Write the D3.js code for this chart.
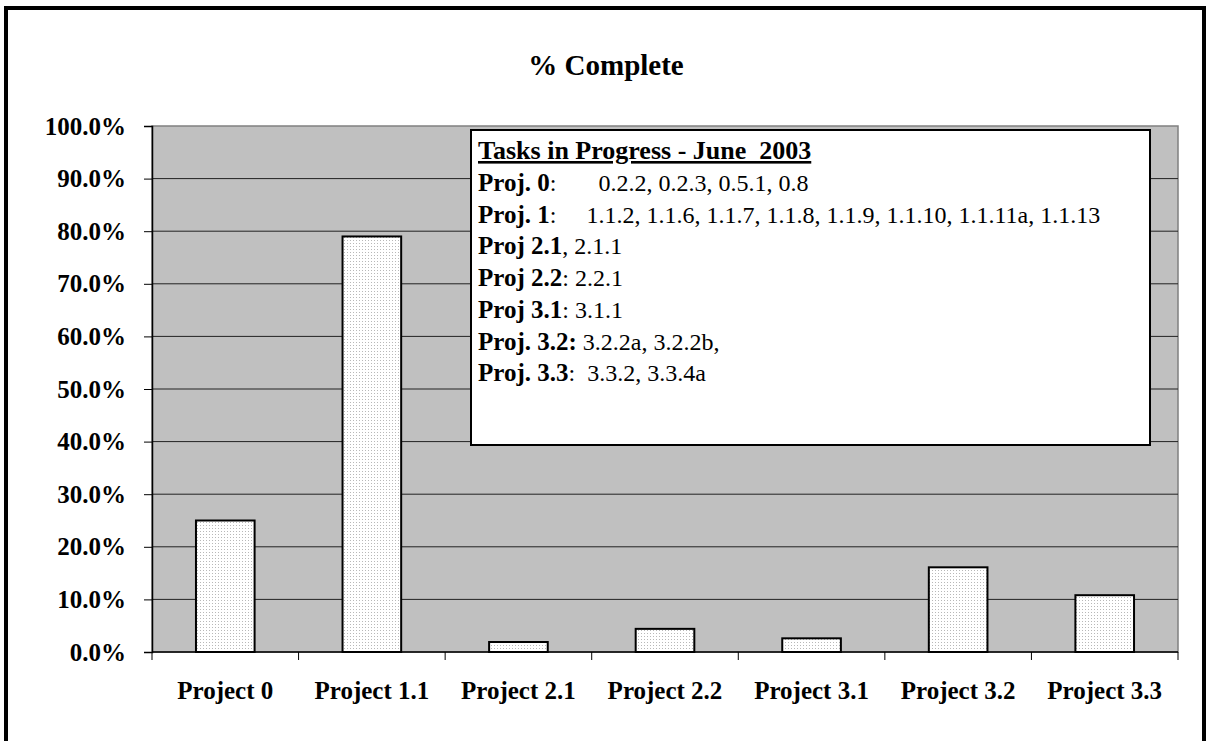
<!DOCTYPE html>
<html>
<head>
<meta charset="utf-8">
<script src="https://cdn.jsdelivr.net/npm/d3@7"></script>
<style>
  body { margin: 0; background: #fff; }
  svg text { font-family: "Liberation Serif", "Times New Roman", serif; }
</style>
</head>
<body>
<div id="chart"></div>
<script>
// data
var projects = ["Project 0", "Project 1.1", "Project 2.1", "Project 2.2", "Project 3.1", "Project 3.2", "Project 3.3"];
var complete = [0.25, 0.79, 0.019, 0.044, 0.026, 0.161, 0.108];
var yTicks = [0, 0.1, 0.2, 0.3, 0.4, 0.5, 0.6, 0.7, 0.8, 0.9, 1.0];

// legend text: [bold part, normal part]
var noteTitle = "Tasks in Progress - June\u00a0 2003";
var noteLines = [
  ["Proj. 0", ":\u00a0\u00a0\u00a0\u00a0\u00a0\u00a0 0.2.2, 0.2.3, 0.5.1, 0.8"],
  ["Proj. 1", ":\u00a0\u00a0\u00a0\u00a0 1.1.2, 1.1.6, 1.1.7, 1.1.8, 1.1.9, 1.1.10, 1.1.11a, 1.1.13"],
  ["Proj 2.1", ", 2.1.1"],
  ["Proj 2.2", ": 2.2.1"],
  ["Proj 3.1", ": 3.1.1"],
  ["Proj. 3.2:", " 3.2.2a, 3.2.2b,"],
  ["Proj. 3.3", ":\u00a0 3.3.2, 3.3.4a"]
];

var width = 1209, height = 741;
var margin = {top: 126, right: 31, bottom: 89, left: 152};
var chartWidth = width - margin.left - margin.right;
var chartHeight = height - margin.top - margin.bottom;

var svg = d3.select("#chart").append("svg")
    .attr("width", width)
    .attr("height", height);

// dotted fill for the bars
var pat = svg.append("defs").append("pattern")
    .attr("id", "dots")
    .attr("width", 3).attr("height", 3)
    .attr("patternUnits", "userSpaceOnUse");
pat.append("rect").attr("width", 3).attr("height", 3).attr("fill", "#ffffff");
pat.append("rect").attr("width", 1).attr("height", 1).attr("fill", "#b8b8b8");

// outer frame
svg.append("rect")
    .attr("x", 6).attr("y", 8)
    .attr("width", 1198).attr("height", 760)
    .attr("fill", "none")
    .attr("stroke", "#000")
    .attr("stroke-width", 4);

svg.append("text")
    .attr("x", 606).attr("y", 75)
    .attr("text-anchor", "middle")
    .style("font-size", "29px")
    .style("font-weight", "bold")
    .text("% Complete");

var g = svg.append("g")
    .attr("transform", `translate(${margin.left}, ${margin.top})`);

var xScale = d3.scaleBand().domain(projects).range([0, chartWidth]).paddingInner(0.6).paddingOuter(0.3);
var yScale = d3.scaleLinear().domain([0, 1]).range([chartHeight, 0]);

// plot area
g.append("rect")
    .attr("width", chartWidth).attr("height", chartHeight)
    .attr("fill", "#c0c0c0")
    .attr("stroke", "#808080")
    .attr("stroke-width", 1.5);

// gridlines
g.selectAll(".grid")
    .data(yTicks.slice(1, -1))
    .enter().append("line")
    .attr("class", "grid")
    .attr("x1", 0).attr("x2", chartWidth)
    .attr("y1", d => yScale(d)).attr("y2", d => yScale(d))
    .attr("stroke", "#222")
    .attr("stroke-width", 1);

// bars
g.selectAll(".bar")
    .data(complete)
    .enter().append("rect")
    .attr("class", "bar")
    .attr("x", (d, i) => xScale(projects[i]))
    .attr("y", d => yScale(d))
    .attr("width", xScale.bandwidth())
    .attr("height", d => chartHeight - yScale(d))
    .attr("fill", "url(#dots)")
    .attr("stroke", "#000")
    .attr("stroke-width", 2);

// y axis
var yAxis = d3.axisLeft(yScale).tickValues(yTicks).tickFormat(d3.format(".1%")).tickSize(8).tickPadding(18);
var yG = g.append("g").call(yAxis);
yG.select(".domain").attr("stroke", "#000").attr("stroke-width", 1.5);
yG.selectAll("text")
    .style("font-size", "25px").style("font-weight", "bold")
    .style("font-family", "'Liberation Serif', serif")
    .attr("fill", "#000");

// x axis, ticks on the category borders
var step = chartWidth / projects.length;
var xG = g.append("g").attr("transform", `translate(0, ${chartHeight})`);
xG.append("line").attr("x1", 0).attr("x2", chartWidth).attr("stroke", "#000").attr("stroke-width", 1.5);
xG.selectAll(".xt")
    .data(d3.range(projects.length + 1))
    .enter().append("line")
    .attr("x1", d => d * step).attr("x2", d => d * step)
    .attr("y1", 0).attr("y2", 8)
    .attr("stroke", "#000");
xG.selectAll(".xl")
    .data(projects)
    .enter().append("text")
    .attr("x", d => xScale(d) + xScale.bandwidth() / 2)
    .attr("y", 47)
    .attr("text-anchor", "middle")
    .style("font-size", "25px").style("font-weight", "bold")
    .text(d => d);

// legend note box
var note = svg.append("g");
note.append("rect")
    .attr("x", 471).attr("y", 130)
    .attr("width", 679).attr("height", 315)
    .attr("fill", "#fff")
    .attr("stroke", "#000")
    .attr("stroke-width", 2);

note.append("text")
    .attr("x", 478).attr("y", 159)
    .style("font-size", "26px").style("font-weight", "bold")
    .style("text-decoration", "underline")
    .text(noteTitle);

noteLines.forEach((ln, i) => {
    var t = note.append("text")
        .attr("x", 478).attr("y", 191 + i * 31.7)
        .style("font-size", "24px")
        .attr("xml:space", "preserve");
    t.append("tspan").style("font-weight", "bold").style("font-size", "25px").text(ln[0]);
    t.append("tspan").text(ln[1]);
});
</script>
</body>
</html>
